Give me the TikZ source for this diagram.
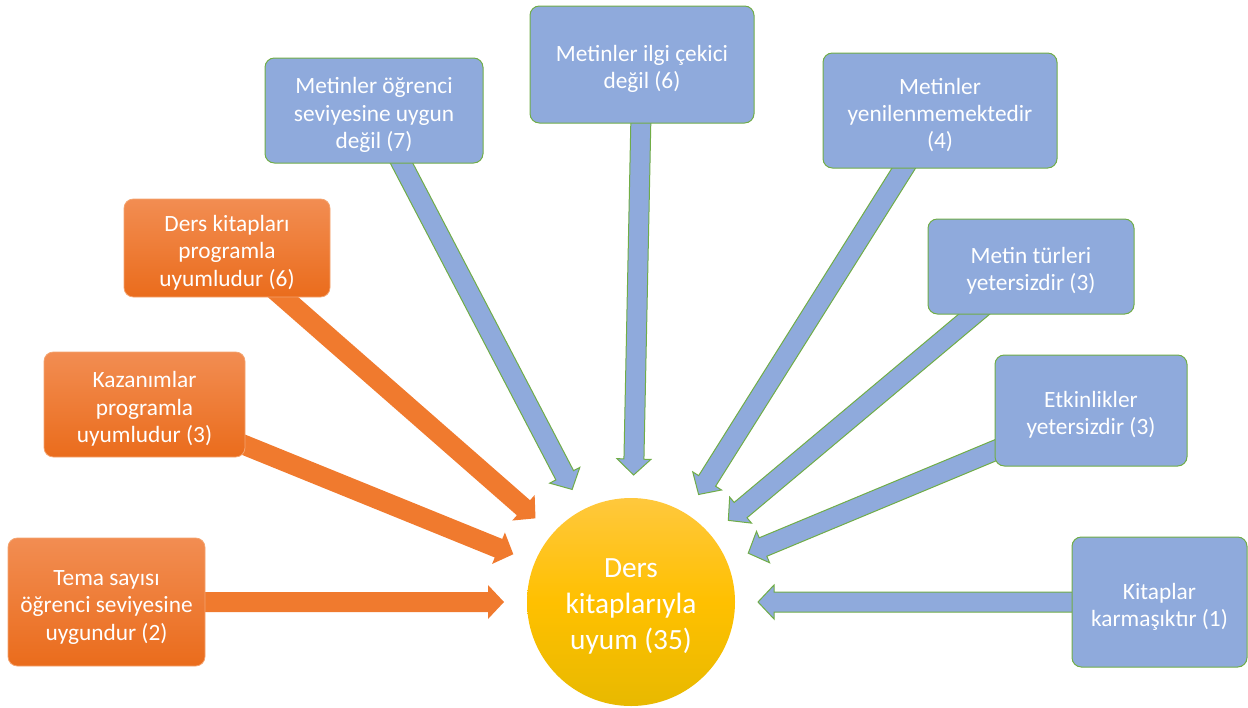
\documentclass[tikz,border=0pt]{standalone}
\usepackage{fontspec}
\setmainfont{Carlito}
\usetikzlibrary{calc,backgrounds}

\definecolor{orangeTop}{HTML}{F28D52}
\definecolor{orangeBot}{HTML}{EA6C1C}
\definecolor{orangeLine}{HTML}{F4A470}
\definecolor{orangeArr}{HTML}{F07A2E}
\definecolor{blueFill}{HTML}{8FAADC}
\definecolor{greenLine}{HTML}{70AD47}
\definecolor{sunTop}{HTML}{FFC83D}
\definecolor{sunMid}{HTML}{FFC000}
\definecolor{sunBot}{HTML}{E8B900}

\newcommand{\topstrut}{\rule{0pt}{19pt}}
% block arrow from a box towards the circle
\newcommand{\tipgap}{95.25pt}
\newcommand{\blockarrow}[3]{%
  \path[#1] let \p1=(#2.center), \p2=($(#3.center)!\tipgap!(#2.center)$),
    \n1={atan2(\y2-\y1,\x2-\x1)}, \n2={veclen(\x2-\x1,\y2-\y1)} in
    [shift={(\p1)}, rotate=\n1]
    (0pt,-7.5pt) -- ({\n2-12pt},-7.5pt) -- ({\n2-12pt},-12.75pt) -- ({\n2+0pt},0pt)
    -- ({\n2-12pt},12.75pt) -- ({\n2-12pt},7.5pt) -- (0pt,7.5pt) -- cycle;}

\begin{document}
\begin{tikzpicture}[x=0.75pt, y=-0.75pt,
    orbox/.style={rectangle, rounded corners=7pt, draw=orangeLine, line width=0.6pt,
      top color=orangeTop, bottom color=orangeBot, text=white, align=center,
      inner sep=2pt, font=\fontsize{17.5}{20.5}\selectfont},
    blbox/.style={rectangle, rounded corners=7pt, draw=greenLine, line width=0.75pt,
      fill=blueFill, text=white, align=center,
      inner sep=2pt, font=\fontsize{17.5}{20.5}\selectfont},
    orarrow/.style={fill=orangeArr},
    blarrow/.style={fill=blueFill, draw=greenLine, line width=0.75pt},
    sun/.style={circle, minimum size=156pt, inner sep=0pt,
      top color=sunTop, bottom color=sunBot, middle color=sunMid,
      text=white, align=center, font=\fontsize{22}{27}\selectfont}]
  \useasboundingbox (0,0) rectangle (1248,707);

  \node[sun] (uyum) at (631,602) {\rule{0pt}{21pt}Ders\\kitaplarıyla\\uyum (35)};

  \node[orbox, minimum width=147.75pt, minimum height=96pt] (tema) at (106.5,602)
    {\topstrut Tema sayısı\\öğrenci seviyesine\\uygundur (2)};
  \node[orbox, minimum width=150.75pt, minimum height=78.75pt] (kazanim) at (144.5,404.5)
    {\topstrut Kazanımlar\\programla\\uyumludur (3)};
  \node[orbox, minimum width=154.5pt, minimum height=73.5pt] (dersprog) at (227,248)
    {\topstrut Ders kitapları\\programla\\uyumludur (6)};

  \node[blbox, minimum width=163.5pt, minimum height=78.75pt] (ogrenci) at (374,110.5)
    {\topstrut Metinler öğrenci\\seviyesine uygun\\değil (7)};
  \node[blbox, minimum width=168pt, minimum height=87.75pt] (ilgi) at (642,64.5)
    {\topstrut Metinler ilgi çekici\\değil (6)};
  \node[blbox, minimum width=175.5pt, minimum height=86.25pt] (yenilen) at (940,110.5)
    {\topstrut Metinler\\yenilenmemektedir\\(4)};
  \node[blbox, minimum width=154.5pt, minimum height=71.25pt] (turler) at (1031,266.5)
    {\topstrut Metin türleri\\yetersizdir (3)};
  \node[blbox, minimum width=144pt, minimum height=83.25pt] (etkinlik) at (1091,410.5)
    {\topstrut Etkinlikler\\yetersizdir (3)};
  \node[blbox, minimum width=131.25pt, minimum height=97.5pt] (karmasik) at (1159.5,602)
    {\topstrut Kitaplar\\karmaşıktır (1)};

  \begin{pgfonlayer}{background}
    \foreach \src in {tema,kazanim,dersprog}
      \blockarrow{orarrow}{\src}{uyum};
    \foreach \src in {ogrenci,ilgi,yenilen,turler,etkinlik,karmasik}
      \blockarrow{blarrow}{\src}{uyum};
  \end{pgfonlayer}
\end{tikzpicture}
\end{document}
